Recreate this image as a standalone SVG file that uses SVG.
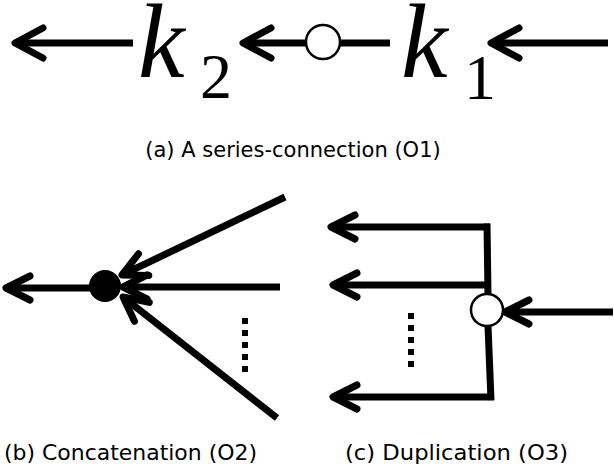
<svg xmlns="http://www.w3.org/2000/svg" width="614" height="468" viewBox="0 0 614 468">
<style>
.ln{stroke:#000;stroke-width:7;fill:none;stroke-linecap:butt}
.cap{font-family:"DejaVu Sans","Liberation Sans",sans-serif;font-size:21px;fill:#000}
.k{font-family:"Liberation Serif",serif;font-style:italic;font-size:105px;fill:#000}
.sub{font-family:"Liberation Serif",serif;font-size:64px;fill:#000}
</style>
<defs>
<marker id="ahA" markerUnits="userSpaceOnUse" orient="auto" refX="0" refY="0" markerWidth="40" markerHeight="40" overflow="visible">
<path d="M28,-15 L0,0 L28,15" fill="none" stroke="#000" stroke-width="7" stroke-linecap="round" stroke-linejoin="round"/>
</marker>
<marker id="ahB" markerUnits="userSpaceOnUse" orient="auto" refX="0" refY="0" markerWidth="40" markerHeight="40" overflow="visible">
<path d="M24,-12 L0,0 L24,12" fill="none" stroke="#000" stroke-width="7" stroke-linecap="round" stroke-linejoin="round"/>
</marker>
</defs>
<g id="connectors">
<line class="ln" x1="15" y1="43" x2="133" y2="43" marker-start="url(#ahA)"/>
<line class="ln" x1="243" y1="43" x2="306" y2="43" marker-start="url(#ahA)"/>
<line class="ln" x1="340" y1="43" x2="390" y2="43"/>
<line class="ln" x1="491" y1="43" x2="608" y2="43" marker-start="url(#ahA)"/>
<line class="ln" x1="6" y1="288" x2="92" y2="288" marker-start="url(#ahB)"/>
<line class="ln" x1="123" y1="287" x2="280" y2="287" marker-start="url(#ahB)"/>
<line class="ln" x1="122" y1="275" x2="285" y2="197" stroke-width="8" marker-start="url(#ahB)"/>
<line class="ln" x1="123" y1="297" x2="277" y2="418" stroke-width="8" marker-start="url(#ahB)"/>
<line x1="245" y1="318" x2="245" y2="373" stroke="#000" stroke-width="6" stroke-dasharray="6,6"/>
<line class="ln" x1="331" y1="227" x2="490" y2="227" marker-start="url(#ahB)"/>
<line class="ln" x1="333" y1="285" x2="488" y2="285" marker-start="url(#ahB)"/>
<line class="ln" x1="333" y1="397" x2="494" y2="397" marker-start="url(#ahB)"/>
<line class="ln" x1="487" y1="223.5" x2="488" y2="295"/>
<line class="ln" x1="488" y1="326" x2="491" y2="400"/>
<line class="ln" x1="505" y1="312" x2="613" y2="312" marker-start="url(#ahB)"/>
<line x1="411" y1="313" x2="411" y2="368" stroke="#000" stroke-width="6" stroke-dasharray="6,6"/>
</g>
<g id="k2">
<text class="k" x="138" y="77">k</text>
<text class="sub" x="216" y="98" text-anchor="middle">2</text>
</g>
<g id="series-node">
<circle cx="323" cy="42" r="17" fill="#fff" stroke="#000" stroke-width="2.5"/>
</g>
<g id="k1">
<text class="k" x="401" y="77">k</text>
<text class="sub" x="480" y="99" text-anchor="middle">1</text>
</g>
<g id="concat-node">
<circle cx="105" cy="286" r="16" fill="#000"/>
</g>
<g id="dup-node">
<circle cx="487" cy="310" r="16" fill="#fff" stroke="#000" stroke-width="2.5"/>
</g>
<g id="captions">
<text class="cap" x="293" y="157" text-anchor="middle">(a) A series-connection (O1)</text>
<text class="cap" x="4" y="460" textLength="253" lengthAdjust="spacingAndGlyphs">(b) Concatenation (O2)</text>
<text class="cap" x="345" y="460" textLength="223" lengthAdjust="spacingAndGlyphs">(c) Duplication (O3)</text>
</g>
</svg>
